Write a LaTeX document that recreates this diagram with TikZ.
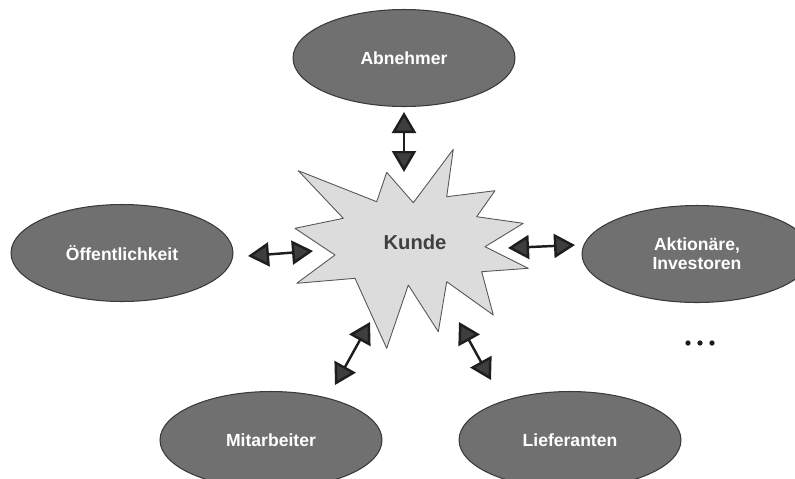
\documentclass[tikz,border=0pt]{standalone}
\usepackage{fontspec}
\setmainfont{Liberation Sans}
\usetikzlibrary{arrows.meta, shapes.geometric}
\definecolor{ink}{HTML}{1E1E1E}
\definecolor{oval}{HTML}{707070}
\definecolor{ovalrim}{HTML}{3A3A3A}
\definecolor{starfill}{HTML}{DCDCDC}
\definecolor{tipgray}{HTML}{3E3E3E}

\begin{document}
\begin{tikzpicture}[x=0.02cm, y=-0.02cm, line join=round,
    grp/.style={ellipse, draw=ovalrim, line width=0.6pt, fill=oval, minimum width=4.44cm,
                minimum height=1.94cm, align=center, text=white,
                font=\fontsize{10}{11}\selectfont\bfseries},
    ar/.style={{Triangle[length=4.2mm, width=4.8mm, fill=tipgray]}-{Triangle[length=4.2mm, width=4.8mm, fill=tipgray]},
               line width=1.4pt, ink}]
  \clip (0,0) rectangle (795,478);
  % the star in the middle
  \draw[draw=ink!75, fill=starfill, line width=0.5pt]
    (386.7,172.3) -- (413.3,202.7) -- (453.3,149.3) -- (446.7,196.7) -- (495,190.7)
    -- (476.7,216.7) -- (523.3,223.3) -- (485,246.7) -- (528.3,268.3) -- (481.7,271.7)
    -- (493.3,315) -- (446.7,281.7) -- (438.3,331.7) -- (408.3,285) -- (386.7,348.3)
    -- (355,278.3) -- (296.7,283.3) -- (335,255) -- (295,228.3) -- (343.3,218.3)
    -- (298.3,170.7) -- (376.7,201.7) -- cycle;
  \node[font=\fontsize{11.5}{13}\selectfont\bfseries, text=ink!85] (kunde) at (415,242) {Kunde};
  \node[grp] (abn)  at (404,58)  {Abnehmer};
  \node[grp] (oeff) at (122,253) {Öffentlichkeit};
  \node[grp, minimum width=4.6cm] (akt) at (697,254) {Aktionäre,\\Investoren};
  \node[grp] (mit)  at (271,440) {Mitarbeiter};
  \node[grp] (lief) at (570,440) {Lieferanten};
  % arrow ends, they touch neither the ovals nor the star
  \coordinate (abnend)  at (404,112);  \coordinate (abnstar)  at (404,172);
  \coordinate (oeffend) at (248,256);  \coordinate (oeffstar) at (313,251);
  \coordinate (aktend)  at (575,245);  \coordinate (aktstar)  at (508,248);
  \coordinate (mitend)  at (335,385);  \coordinate (mitstar)  at (370,322);
  \coordinate (liefend) at (491,380);  \coordinate (liefstar) at (459,322);
  \draw[ar] (abnend) -- (abnstar);
  \draw[ar] (oeffend) -- (oeffstar);
  \draw[ar] (aktstar) -- (aktend);
  \draw[ar] (mitstar) -- (mitend);
  \draw[ar] (liefstar) -- (liefend);
  \foreach \x in {688,700,712} \fill[ink] (\x,343) circle (1.5pt);
\end{tikzpicture}
\end{document}
